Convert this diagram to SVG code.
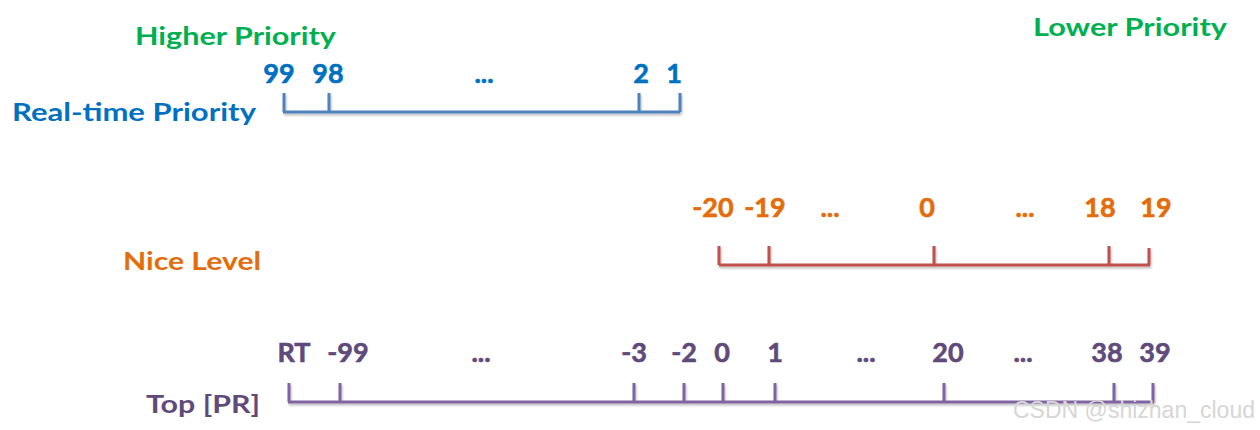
<svg xmlns="http://www.w3.org/2000/svg" width="1260" height="430" viewBox="0 0 1260 430">
<defs>
<filter id="sh" x="-5%" y="-50%" width="110%" height="200%">
<feDropShadow dx="1" dy="2" stdDeviation="1" flood-color="#000" flood-opacity="0.25"/>
</filter>
</defs>
<style>
text{font-family:Lato,"Open Sans","Liberation Sans",sans-serif;font-weight:700;font-size:25px}
.num text{text-anchor:middle;font-size:27px;stroke-width:0.6px}
.g{fill:#00B050}
.b{fill:#0070C0}
.b.num text{stroke:#0070C0}
.o{fill:#E46C0A}
.o.num text{stroke:#E46C0A}
.p{fill:#604A7B}
.p.num text{stroke:#604A7B}
.lb{fill:none;stroke:#4F81BD;stroke-width:3}
.lr{fill:none;stroke:#C0504D;stroke-width:3}
.lp{fill:none;stroke:#8064A2;stroke-width:3}
.wm{font-family:"Liberation Sans",Arial,sans-serif;font-weight:400;font-size:23px;fill:#d6d6d6}
</style>
<rect width="1260" height="430" fill="#fff"/>
<g id="labels">
<text class="g" x="135" y="45" textLength="201" lengthAdjust="spacingAndGlyphs">Higher Priority</text>
<text class="g" x="1033" y="36" textLength="194" lengthAdjust="spacingAndGlyphs">Lower Priority</text>
<text class="b" x="12" y="121" textLength="244" lengthAdjust="spacingAndGlyphs">Real-time Priority</text>
<text class="o" x="123" y="270" textLength="138" lengthAdjust="spacingAndGlyphs">Nice Level</text>
<text class="p" x="146" y="413" textLength="114" lengthAdjust="spacingAndGlyphs">Top [PR]</text>
</g>
<g id="rt-scale">
<g class="b num">
<text x="279" y="83">99</text>
<text x="328" y="83">98</text>
<text x="484" y="83">...</text>
<text x="641" y="83">2</text>
<text x="674" y="83">1</text>
</g>
</g>
<g id="nice-scale">
<g class="o num">
<text x="713" y="217">-20</text>
<text x="765" y="217">-19</text>
<text x="830" y="217">...</text>
<text x="927" y="217">0</text>
<text x="1025" y="217">...</text>
<text x="1100" y="217">18</text>
<text x="1156" y="217">19</text>
</g>
</g>
<g id="top-scale">
<g class="p num">
<text x="294" y="362">RT</text>
<text x="348" y="362">-99</text>
<text x="481" y="362">...</text>
<text x="634" y="362">-3</text>
<text x="684" y="362">-2</text>
<text x="722" y="362">0</text>
<text x="775" y="362">1</text>
<text x="866" y="362">...</text>
<text x="948" y="362">20</text>
<text x="1023" y="362">...</text>
<text x="1107" y="362">38</text>
<text x="1155" y="362">39</text>
</g>
</g>
<g id="connectors">
<path class="lb" filter="url(#sh)" d="M283 112H680M284 93V112M329 93V112M639 93V112M680 93V112"/>
<path class="lr" filter="url(#sh)" d="M719 265H1150M719 246V265M769 246V265M934 246V265M1109 246V265M1149 248V265"/>
<path class="lp" filter="url(#sh)" d="M288 402H1154M289 383V402M340 383V402M634 383V402M684 383V402M723 383V402M775 383V402M944 383V402M1114 383V402M1153 383V402"/>
</g>
<text class="wm" x="1013" y="418">CSDN @shizhan_cloud</text>
</svg>
